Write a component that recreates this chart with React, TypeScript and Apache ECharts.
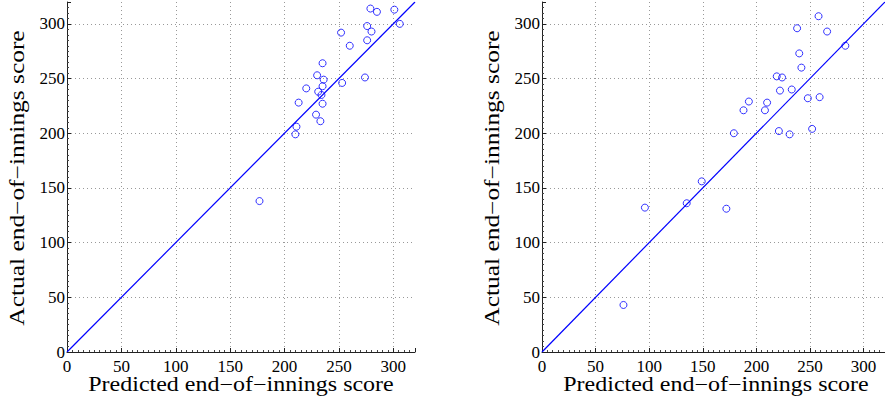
import React, { useEffect, useRef } from "react";
import * as echarts from "echarts";

// Left panel: predicted vs actual end-of-innings score
const leftPredicted = [279, 285, 301, 306, 276, 280, 252, 276, 260, 235, 230, 236, 253, 274, 235, 220, 231, 234, 235, 213, 229, 233, 211, 210, 177];
const leftActual = [314, 311, 313, 300, 298, 293, 292, 285, 280, 264, 253, 249, 246, 251, 243, 241, 238, 235, 227, 228, 217, 211, 206, 199, 138];

// Right panel
const rightPredicted = [258, 238, 266, 283, 240, 242, 219, 224, 222, 233, 248, 259, 193, 210, 188, 208, 179, 221, 231, 252, 149, 135, 96, 172, 76];
const rightActual = [307, 296, 293, 280, 273, 260, 252, 251, 239, 240, 232, 233, 229, 228, 221, 221, 200, 202, 199, 204, 156, 136, 132, 131, 43];

// y = x reference line
const diagonal = [0, 320];

const AXIS_MAX = 320;
const TICK_STEP = 50;
const FONT = "Liberation Serif";
const BLUE = "#0000ff";

const xTitle = "Predicted end\u2212of\u2212innings score";
const yTitle = "Actual end\u2212of\u2212innings score";

// panel origins (pixel position of the axes' left edge)
const PANEL_LEFT = [67, 542];
const TITLE_SIZE = 20;
const X_TITLE_STRETCH = 1.2;
const Y_TITLE_STRETCH = 1.27;

function makeAxis(gridIndex: number, isX: boolean) {
  return {
    type: "value",
    gridIndex,
    min: 0,
    max: AXIS_MAX,
    interval: TICK_STEP,
    axisLine: { show: true, lineStyle: { color: "#222", width: 1 } },
    axisTick: { show: true, inside: true, length: 4, lineStyle: { color: "#222" } },
    minorTick: { show: true, splitNumber: 10, length: 2, lineStyle: { color: "#444" } },
    axisLabel: {
      fontFamily: FONT,
      fontSize: 17,
      lineHeight: 13,
      color: "#000",
      margin: isX ? 8 : 2,
      showMaxLabel: false,
      formatter: (v: number) => (v > 300 ? "" : String(v)),
    },
    splitLine: {
      show: true,
      showMinLine: false,
      showMaxLine: false,
      lineStyle: { color: "#999", type: [1, 3], width: 1 },
    },
  };
}

function scatterSeries(idx: number, xs: number[], ys: number[]) {
  return {
    type: "scatter",
    xAxisIndex: idx,
    yAxisIndex: idx,
    data: xs.map((x, i) => [x, ys[i]]),
    symbol: "circle",
    symbolSize: 7,
    itemStyle: { color: "transparent", borderColor: BLUE, borderWidth: 1 },
    z: 3,
  };
}

function lineSeries(idx: number) {
  return {
    type: "line",
    xAxisIndex: idx,
    yAxisIndex: idx,
    data: diagonal.map((v) => [v, v]),
    symbol: "none",
    color: BLUE,
    itemStyle: { color: BLUE },
    lineStyle: { color: BLUE, width: 1.2 },
    z: 2,
  };
}

function titles(left: number) {
  const style = {
    fontFamily: FONT,
    fontSize: TITLE_SIZE,
    fill: "#000",
    align: "center",
    verticalAlign: "middle",
  };
  return [
    {
      type: "text",
      x: left + 174,
      y: 384,
      scaleX: X_TITLE_STRETCH,
      style: { ...style, text: xTitle },
    },
    {
      type: "text",
      x: left - 50,
      y: 178,
      rotation: Math.PI / 2,
      scaleX: Y_TITLE_STRETCH,
      style: { ...style, text: yTitle },
    },
  ];
}

export default function App() {
  const ref = useRef<HTMLDivElement>(null);

  useEffect(() => {
    if (!ref.current) return;
    const chart = echarts.init(ref.current, null, { renderer: "svg" });
    chart.setOption({
      animation: false,
      backgroundColor: "#fff",
      grid: [
        { left: PANEL_LEFT[0], top: 2, width: 348, height: 350 },
        { left: PANEL_LEFT[1], top: 2, width: 352, height: 350 },
      ],
      xAxis: [makeAxis(0, true), makeAxis(1, true)],
      yAxis: [makeAxis(0, false), makeAxis(1, false)],
      series: [
        lineSeries(0),
        scatterSeries(0, leftPredicted, leftActual),
        lineSeries(1),
        scatterSeries(1, rightPredicted, rightActual),
      ],
      graphic: [...titles(PANEL_LEFT[0]), ...titles(PANEL_LEFT[1])],
    });
    return () => chart.dispose();
  }, []);

  return (
    <div
      ref={ref}
      style={{ position: "absolute", left: 0, top: 0, width: 885, height: 402 }}
    />
  );
}
